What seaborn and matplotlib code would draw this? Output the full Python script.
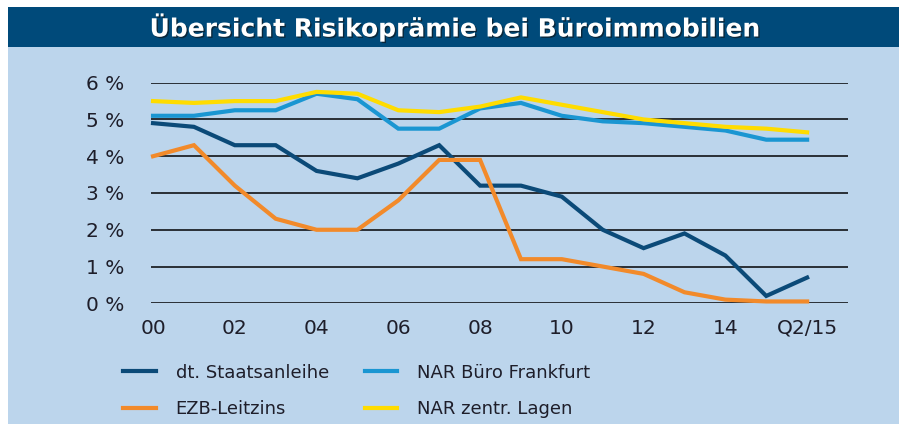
import numpy as np
import pandas as pd
import seaborn as sns
import matplotlib.pyplot as plt
from matplotlib.patches import Rectangle
import matplotlib.patheffects as pe

# Daten
perioden = ["00", "01", "02", "03", "04", "05", "06", "07", "08", "09",
            "10", "11", "12", "13", "14", "15", "Q2/15"]
staatsanleihe = [4.9, 4.8, 4.3, 4.3, 3.6, 3.4, 3.8, 4.3, 3.2, 3.2,
                 2.9, 2.0, 1.5, 1.9, 1.3, 0.2, 0.7]
ezb_leitzins = [4.0, 4.3, 3.2, 2.3, 2.0, 2.0, 2.8, 3.9, 3.9, 1.2,
                1.2, 1.0, 0.8, 0.3, 0.1, 0.05, 0.05]
nar_frankfurt = [5.1, 5.1, 5.25, 5.25, 5.7, 5.55, 4.75, 4.75, 5.3, 5.45,
                 5.1, 4.95, 4.9, 4.8, 4.7, 4.45, 4.45]
nar_zentral = [5.5, 5.45, 5.5, 5.5, 5.75, 5.7, 5.25, 5.2, 5.35, 5.6,
               5.4, 5.2, 5.0, 4.9, 4.8, 4.75, 4.65]

serien = ["dt. Staatsanleihe", "EZB-Leitzins", "NAR Büro Frankfurt", "NAR zentr. Lagen"]
farben = ["#0b4a78", "#f28a2a", "#1a96d2", "#ffdc00"]
xtick_pos = [0, 2, 4, 6, 8, 10, 12, 14, 16]

n = len(perioden)
df = pd.DataFrame({
    "x": list(range(n)) * 4,
    "wert": staatsanleihe + ezb_leitzins + nar_frankfurt + nar_zentral,
    "serie": [s for s in serien for _ in range(n)],
})

bg = "#bcd5ec"
fig = plt.figure(figsize=(8.99, 4.24), dpi=100)
fig.patch.set_facecolor("white")
fig.patches.append(Rectangle((8 / 899, 0), 1, (424 - 47) / 424, transform=fig.transFigure,
                             facecolor=bg, edgecolor="none", zorder=-2))
fig.patches.append(Rectangle((8 / 899, (424 - 47) / 424), 1, 40 / 424, transform=fig.transFigure,
                             facecolor="#004a7a", edgecolor="none", zorder=-2))
fig.text(0.507, (424 - 27) / 424, "Übersicht Risikoprämie bei Büroimmobilien",
         color="white", fontsize=18, fontweight="bold", ha="center", va="center",
         path_effects=[pe.withSimplePatchShadow(offset=(1, -1), shadow_rgbFace="#111111", alpha=0.6)])

ax = fig.add_axes([151 / 899, (424 - 303.3) / 424, 697 / 899, 220.6 / 424])
ax.set_facecolor("none")
sns.lineplot(data=df, x="x", y="wert", hue="serie", hue_order=serien, palette=farben,
             linewidth=3, ax=ax, legend=False, zorder=3)
for ln in ax.lines:
    ln.set_clip_on(False)
    ln.set_solid_joinstyle("miter")

ax.set_xlim(-0.05, 17.0)
ax.set_ylim(0, 6)
ax.set_yticks(range(7))
ax.set_yticklabels([f"{i} %" for i in range(7)])
ax.set_xticks(xtick_pos)
ax.set_xticklabels([perioden[i] for i in xtick_pos])
ax.tick_params(length=0, labelsize=14.5, colors="#1e1e2a")
ax.tick_params(axis="y", pad=19)
ax.tick_params(axis="x", pad=11)
ax.grid(axis="y", color="#2a2f36", linewidth=1.4)
ax.grid(axis="x", visible=False)
ax.set_axisbelow(True)
for s in ax.spines.values():
    s.set_visible(False)
ax.set_xlabel("")
ax.set_ylabel("")

handles = [plt.Line2D([], [], color=c, linewidth=3) for c in farben]
leg = fig.legend(handles, serien, ncol=2, loc="center left",
                 bbox_to_anchor=(107 / 899, (424 - 391) / 424), frameon=False,
                 fontsize=13, handlelength=1.8, handletextpad=1.1, columnspacing=2.0,
                 labelspacing=1.05)
for t in leg.get_texts():
    t.set_color("#1e1e2a")

fig.savefig("out.png", dpi=100, facecolor=fig.get_facecolor())
